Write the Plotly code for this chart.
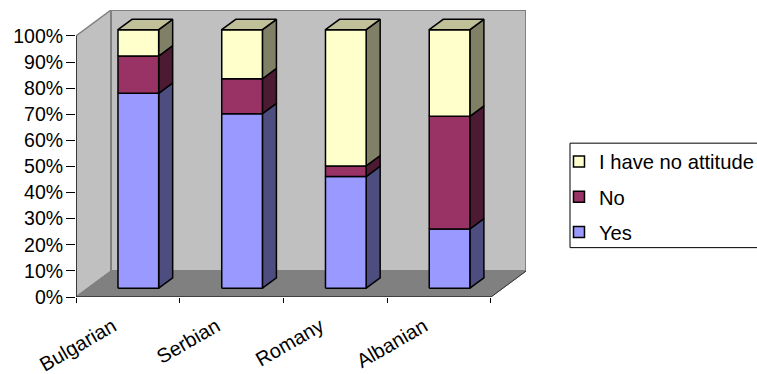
import plotly.graph_objects as go

# Share of answers per ethnic group, percent of respondents
categories = ["Bulgarian", "Serbian", "Romany", "Albanian"]
yes = [75.4, 67.5, 43.2, 22.9]
no = [14.4, 13.5, 4.1, 43.6]
no_attitude = [10.2, 19.0, 52.7, 33.5]
y_ticks = [0, 10, 20, 30, 40, 50, 60, 70, 80, 90, 100]
y_tick_labels = [f"{v}%" for v in y_ticks]

series = [
    ("Yes", yes, "#9999FF", "#4D4D80"),
    ("No", no, "#993366", "#4D1A33"),
    ("I have no attitude", no_attitude, "#FFFFCC", "#808066"),
]
TOP_COLOR = "#C0C099"

# Oblique projection of the chart box, in axis units
DEPTH_X = 0.3376
DEPTH_Y = 9.92
BAR_LEFT = 0.29
BAR_WIDTH = 0.392
BAR_DEPTH_NEAR = 0.34
BAR_DEPTH_SPAN = 0.40
BAR_HEIGHT_SCALE = 0.99
FONT = "Liberation Sans, Arial, sans-serif"
FONT_SIZE = 19.5


def project(x, y, depth):
    return x + depth * DEPTH_X, y + depth * DEPTH_Y


def polygon(points, fill, line_color="black", line_width=1.5):
    xs = [p[0] for p in points] + [points[0][0]]
    ys = [p[1] for p in points] + [points[0][1]]
    return go.Scatter(
        x=xs, y=ys, mode="lines", fill="toself", fillcolor=fill,
        line=dict(color=line_color, width=line_width),
        showlegend=False, hoverinfo="skip", cliponaxis=False,
    )


def segment(points, color, width):
    return go.Scatter(
        x=[p[0] for p in points], y=[p[1] for p in points], mode="lines",
        line=dict(color=color, width=width),
        showlegend=False, hoverinfo="skip", cliponaxis=False,
    )


fig = go.Figure()
n = len(categories)

# Chart box: side wall, back wall and floor
fig.add_trace(polygon([project(0, 0, 0), project(0, 0, 1), project(0, 100, 1), project(0, 100, 0)],
                      "#C0C0C0", "#808080", 1.5))
fig.add_trace(polygon([project(0, 0, 1), project(n, 0, 1), project(n, 100, 1), project(0, 100, 1)],
                      "#C0C0C0", "#808080", 2))
fig.add_trace(polygon([project(0, 0, 0), project(n, 0, 0), project(n, 0, 1), project(0, 0, 1)],
                      "#808080", "#808080", 1))
fig.add_trace(segment([project(n, 0, 0), project(n, 0, 1)], "#333333", 1))

# Stacked columns, each segment with a side face and a front face
for i in range(n):
    x0 = i + BAR_LEFT
    x1 = x0 + BAR_WIDTH
    near = BAR_DEPTH_NEAR
    far = BAR_DEPTH_NEAR + BAR_DEPTH_SPAN
    base = 0.0
    for name, values, front, side in series:
        top = base + values[i] * BAR_HEIGHT_SCALE
        fig.add_trace(polygon([project(x1, base, near), project(x1, base, far),
                               project(x1, top, far), project(x1, top, near)], side))
        fig.add_trace(polygon([project(x0, base, near), project(x1, base, near),
                               project(x1, top, near), project(x0, top, near)], front))
        base = top
    fig.add_trace(polygon([project(x0, base, near), project(x1, base, near),
                           project(x1, base, far), project(x0, base, far)], TOP_COLOR))

# Axis lines stop at the front of the box
fig.add_trace(segment([(0, 0), (0, 100)], "black", 1.2))
fig.add_trace(segment([(0, 0), (n, 0)], "black", 1.2))

# Legend entries, one group each so the rows can be spaced apart
for name, values, front, side in reversed(series):
    fig.add_trace(go.Scatter(
        x=[None], y=[None], mode="markers", name=name, legendgroup=name,
        marker=dict(symbol="square", size=11, color=front, line=dict(color="black", width=1.5)),
    ))

# Carrier for the category boundary ticks on the overlaid axis
fig.add_trace(go.Scatter(x=[None], y=[None], xaxis="x2", showlegend=False, hoverinfo="skip"))

x_range = [0, n + DEPTH_X]
fig.update_layout(
    width=757, height=374,
    margin=dict(l=76, r=231, t=10, b=76.5, autoexpand=False),
    paper_bgcolor="white", plot_bgcolor="white",
    font=dict(family=FONT, size=FONT_SIZE, color="black"),
    xaxis=dict(
        range=x_range, showgrid=False, zeroline=False, showline=False, ticks="",
        tickmode="array", tickvals=[i + 0.355 for i in range(n)], ticktext=categories,
        tickangle=-30, ticklabelstandoff=13, tickfont=dict(size=20),
    ),
    xaxis2=dict(
        range=x_range, overlaying="x", anchor="y", side="bottom", showgrid=False,
        zeroline=False, showline=False, ticks="outside", ticklen=5, tickwidth=1.2,
        tickcolor="black", tickmode="array", tickvals=list(range(n + 1)), showticklabels=False,
    ),
    yaxis=dict(
        range=[0, 100 + DEPTH_Y], showgrid=False, zeroline=False, showline=False,
        ticks="outside", ticklen=9, tickwidth=1.2, tickcolor="black",
        tickmode="array", tickvals=y_ticks, ticktext=y_tick_labels, ticklabelstandoff=-1,
    ),
    showlegend=True,
    legend=dict(
        x=1.0733, y=0.349, xanchor="left", yanchor="middle", xref="paper", yref="paper",
        bgcolor="rgba(0,0,0,0)", borderwidth=0, traceorder="grouped", tracegroupgap=6,
        font=dict(family=FONT, size=20.2), itemclick=False, itemdoubleclick=False,
    ),
    shapes=[dict(
        type="rect", xref="paper", yref="paper", layer="below",
        x0=1.0978, x1=1.55, y0=0.172, y1=0.536,
        line=dict(color="black", width=1), fillcolor="white",
    )],
)

fig.write_html("out.html")
